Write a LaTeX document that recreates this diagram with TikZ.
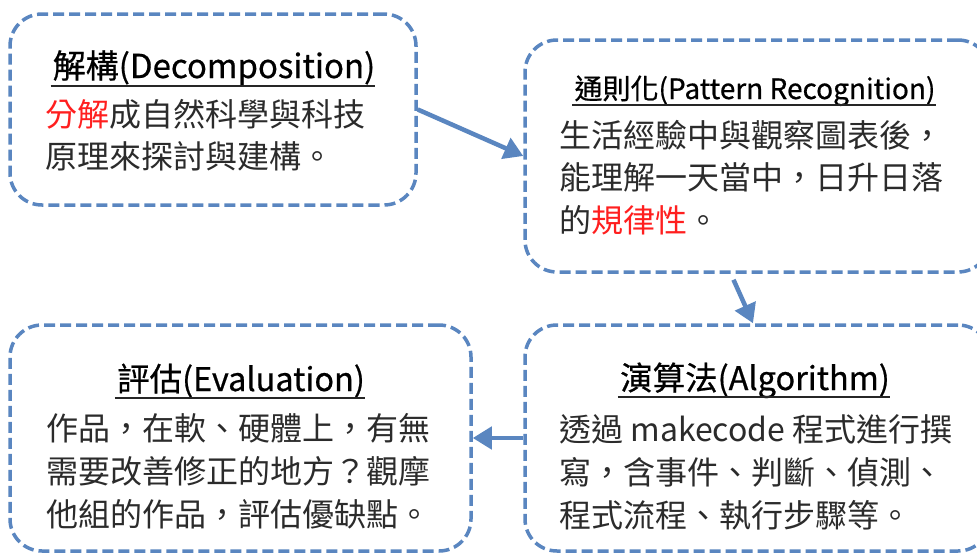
\documentclass[tikz,border=0pt]{standalone}
\usepackage{fontspec}
\setmainfont{Noto Sans CJK TC}
\newfontfamily\ttlfont[FakeBold=0.6]{Noto Sans CJK TC}
\usetikzlibrary{arrows.meta,calc}
\definecolor{boxblue}{HTML}{5A86C0}
\definecolor{txtred}{HTML}{FF1F1F}
\definecolor{txtgray}{HTML}{2B2B2B}
\begin{document}
\begin{tikzpicture}[x=1pt,y=-1pt,
  box/.style={draw=boxblue, line width=3.5pt, dash pattern=on 11pt off 5pt,
    rounded corners=32pt, inner sep=0pt, minimum width=#1},
  ttl/.style={inner sep=0pt, anchor=base, text=black, font=\ttlfont\fontsize{#1}{#1}\selectfont},
  ln/.style={inner sep=0pt, anchor=base west, text=txtgray, font=\fontsize{32}{32}\selectfont},
  uline/.style={draw=black!85, line width=1.4pt},
  link/.style={draw=boxblue, line width=4.5pt, -{Triangle[length=19pt,width=22pt]}}]
\useasboundingbox (0,0) rectangle (977,554);
\clip (0,0) rectangle (977,554);
\fill[white] (0,0) rectangle (977,554);
% boxes
\node[box=406pt, minimum height=191pt] (b1) at (213,109.5) {};
\node[box=465pt, minimum height=232pt] (b2) at (757.5,156) {};
\node[box=465pt, minimum height=226pt] (b3) at (757.5,438) {};
\node[box=461pt, minimum height=226pt] (b4) at (240.5,438) {};
% box 1
\node[ttl=33] (t1) at (214,78) {解構(Decomposition)};
\draw[uline] ($(t1.base west)+(-2,8)$) -- ($(t1.base east)+(0,8)$);
\node[ln] (l11) at (45,126) {\textcolor{txtred}{分解}成自然科學與科技};
\node[ln] (l12) at (45,168) {原理來探討與建構。};
% box 2
\node[ttl=28] (t2) at (755,99) {通則化(Pattern Recognition)};
\draw[uline] ($(t2.base west)+(-2,6)$) -- ($(t2.base east)+(0,6)$);
\node[ln] (l21) at (559,147) {生活經驗中與觀察圖表後，};
\node[ln] (l22) at (559,189) {能理解一天當中，日升日落};
\node[ln] (l23) at (559,232) {的\textcolor{txtred}{規律性}。};
% box 3
\node[ttl=32.5] (t3) at (755,390) {演算法(Algorithm)};
\draw[uline] ($(t3.base west)+(-2,7)$) -- ($(t3.base east)+(0,7)$);
\node[ln] (l31) at (559,441) {透過 makecode 程式進行撰};
\node[ln] (l32) at (559,484) {寫，含事件、判斷、偵測、};
\node[ln] (l33) at (559,527) {程式流程、執行步驟等。};
% box 4
\node[ttl=32.5] (t4) at (241,391) {評估(Evaluation)};
\draw[uline] ($(t4.base west)+(-2,7)$) -- ($(t4.base east)+(0,7)$);
\node[ln] (l41) at (46,440) {作品，在軟、硬體上，有無};
\node[ln] (l42) at (46,483) {需要改善修正的地方？觀摩};
\node[ln] (l43) at (46,526) {他組的作品，評估優缺點。};
% connectors
\draw[link] (b1.east) -- (b2.west);
\draw[link] ($(b2.south)+(-24,6)$) -- ($(b3.north)+(-4.5,0)$);
\draw[link] (b3.west) -- (b4.east);
\end{tikzpicture}
\end{document}
